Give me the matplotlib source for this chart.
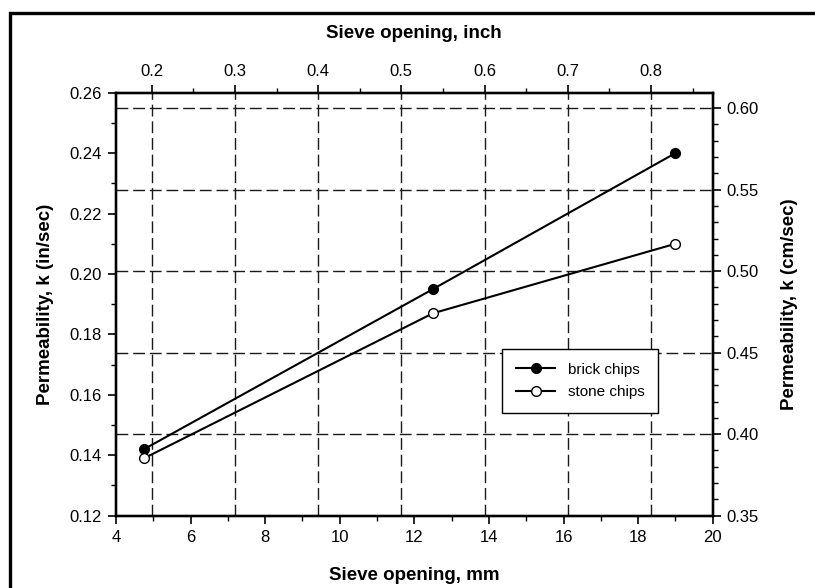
import numpy as np
import matplotlib
matplotlib.use("Agg")
import matplotlib.pyplot as plt
from matplotlib.patches import Rectangle
from matplotlib.ticker import MultipleLocator, FormatStrFormatter

plt.rcParams['font.family'] = ['Liberation Sans', 'DejaVu Sans']

# data
sieve_mm = [4.75, 12.5, 19.0]
brick_k = [0.142, 0.195, 0.240]
stone_k = [0.139, 0.187, 0.210]

inch_ticks = [0.2, 0.3, 0.4, 0.5, 0.6, 0.7, 0.8]
cm_ticks = [0.35, 0.40, 0.45, 0.50, 0.55, 0.60]

fig = plt.figure(figsize=(8.15, 5.88), dpi=100)
ax = fig.add_axes([116 / 815, 1 - 515.7 / 588, 596.7 / 815, 423 / 588])
ax_top = ax.twiny()
ax_right = ax.twinx()

dash = (0, (8.5, 3.5))

# bottom / left axis
ax.set_xlim(4, 20)
ax.set_ylim(0.12, 0.26)
ax.xaxis.set_major_locator(MultipleLocator(2))
ax.xaxis.set_minor_locator(MultipleLocator(1))
ax.yaxis.set_major_locator(MultipleLocator(0.02))
ax.yaxis.set_minor_locator(MultipleLocator(0.01))
ax.yaxis.set_major_formatter(FormatStrFormatter('%.2f'))

# top axis (inch)
ax_top.set_xlim(0.1571, 0.8742)
ax_top.set_xticks(inch_ticks)
ax_top.xaxis.set_minor_locator(MultipleLocator(0.05))
ax_top.xaxis.set_major_formatter(FormatStrFormatter('%.1f'))
for v in inch_ticks:
    ax_top.axvline(v, color='#1a1a1a', lw=1.0, linestyle=dash, zorder=1)

# right axis (cm/sec)
ax_right.set_ylim(0.35, 0.6095)
ax_right.set_yticks(cm_ticks)
ax_right.yaxis.set_minor_locator(MultipleLocator(0.01))
ax_right.yaxis.set_major_formatter(FormatStrFormatter('%.2f'))
for v in cm_ticks[1:]:
    ax_right.axhline(v, color='#1a1a1a', lw=1.0, linestyle=dash, zorder=1)

for a in (ax, ax_top, ax_right):
    a.patch.set_visible(False)
    for s in a.spines.values():
        s.set_linewidth(1.6)
    a.tick_params(which='major', direction='out', length=6, width=1.2, labelsize=12, pad=4)
    a.tick_params(which='minor', direction='out', length=3.5, width=1.0)

ax.set_zorder(3)

ax.plot(sieve_mm, brick_k, color='black', lw=1.5, marker='o', ms=7,
        mfc='black', mec='black', label='brick chips', zorder=4)
ax.plot(sieve_mm, stone_k, color='black', lw=1.5, marker='o', ms=7,
        mfc='white', mec='black', mew=1.0, label='stone chips', zorder=4)

leg = ax.legend(loc='upper left', bbox_to_anchor=((502 - 116) / 596.7, (515.7 - 349) / 423),
                borderaxespad=0, fancybox=False, framealpha=1, edgecolor='black',
                fontsize=11, handlelength=2.6, borderpad=0.9, labelspacing=0.55)
leg.get_frame().set_linewidth(1.0)

label_font = dict(fontsize=13.5, fontweight='bold')
fig.text(414 / 815, 1 - 33 / 588, 'Sieve opening, inch', ha='center', va='center', **label_font)
fig.text(414 / 815, 1 - 575 / 588, 'Sieve opening, mm', ha='center', va='center', **label_font)
fig.text(46 / 815, 1 - 304 / 588, 'Permeability, k (in/sec)', rotation=90,
         ha='center', va='center', **label_font)
fig.text(790 / 815, 1 - 304 / 588, 'Permeability, k (cm/sec)', rotation=90,
         ha='center', va='center', **label_font)

# outer figure frame
fig.patches.append(Rectangle((10 / 815, -0.1), 1.2, 1 - 13 / 588 + 0.1,
                             transform=fig.transFigure, fill=False,
                             edgecolor='black', lw=2.4))

fig.savefig('out.png', dpi=100, facecolor='white')
